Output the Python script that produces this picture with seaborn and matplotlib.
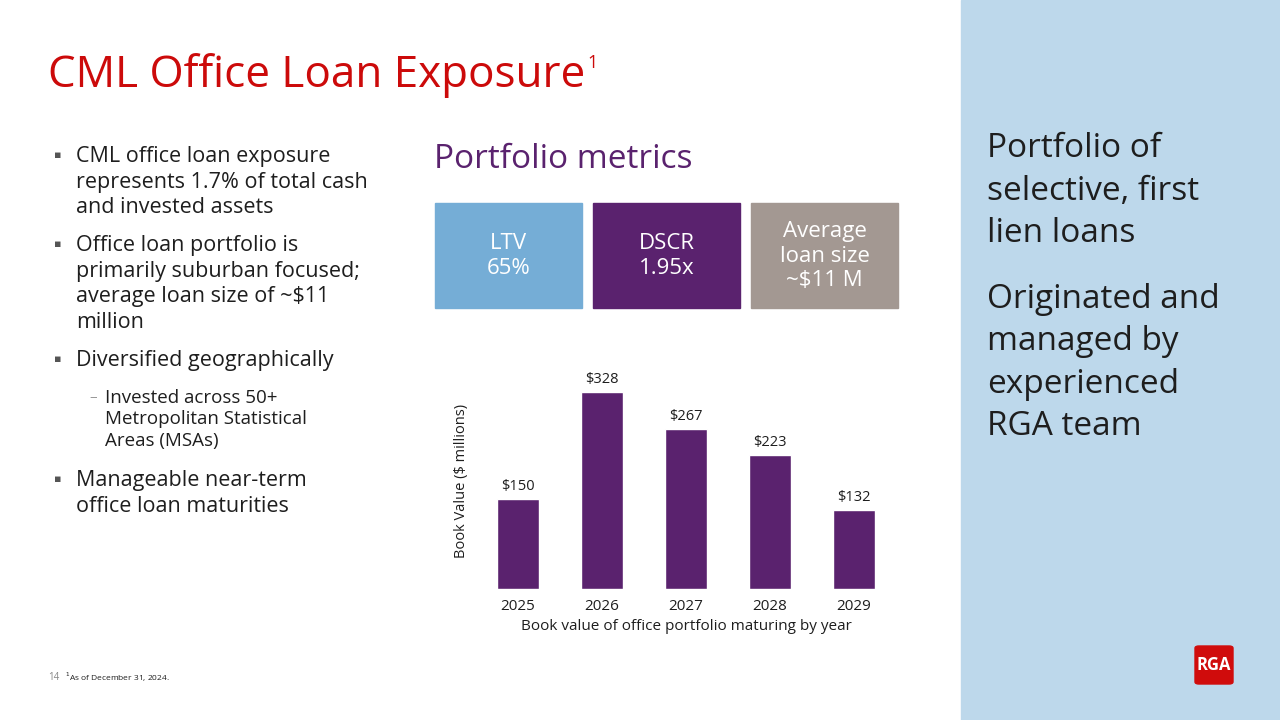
import pandas as pd
import seaborn as sns
import matplotlib.pyplot as plt
from matplotlib.patches import Rectangle, FancyBboxPatch

# data
years = ['2025', '2026', '2027', '2028', '2029']
book_values = [150, 328, 267, 223, 132]
value_labels = ['$150', '$328', '$267', '$223', '$132']

metric_names = ['LTV', 'DSCR', 'Average\nloan size']
metric_values = ['65%', '1.95x', '~$11 M']

bullets = [
    'CML office loan exposure\nrepresents 1.7% of total cash\nand invested assets',
    'Office loan portfolio is\nprimarily suburban focused;\naverage loan size of ~$11\nmillion',
    'Diversified geographically',
    'Manageable near-term\noffice loan maturities',
]
sub_bullet = 'Invested across 50+\nMetropolitan Statistical\nAreas (MSAs)'

side_texts = ['Portfolio of\nselective, first\nlien loans',
              'Originated and\nmanaged by\nexperienced\nRGA team']

sns.set_theme(style='white')
plt.rcParams['font.family'] = ['Open Sans', 'DejaVu Sans']

RED = '#CC0A0A'
PURPLE = '#5A226E'
LBLUE = '#75ADD6'
TAUPE = '#A39892'
PANEL = '#BDD8EB'
TXT = '#1E1E1E'

W, H = 1280, 720
fig = plt.figure(figsize=(12.8, 7.2), dpi=100)


def fx(x):
    return x / W


def fy(y):
    return 1 - y / H


# right panel
fig.patches.append(Rectangle((fx(961), 0), 1 - fx(961), 1, transform=fig.transFigure,
                             color=PANEL, zorder=0))

# title
fig.text(fx(48), fy(76), 'CML Office Loan Exposure', color=RED, fontsize=31.7,
         va='center', ha='left')
fig.text(fx(587), fy(63), '1', color=RED, fontsize=13, va='center', ha='left')

# bullets
bullet_y = [155, 244, 359, 479]
for by, txt in zip(bullet_y, bullets):
    fig.text(fx(54), fy(by), '\u25aa', fontsize=8, color='#555555', va='center', ha='left',
             family=['DejaVu Sans'])
    fig.text(fx(76), fy(by - 9), txt, fontsize=15.5, color=TXT, va='top', ha='left',
             linespacing=1.29)
fig.text(fx(89), fy(398), '\u2013', fontsize=11, color='#999999', va='center', ha='left')
fig.text(fx(105), fy(389), sub_bullet, fontsize=13.5, color=TXT, va='top', ha='left',
         linespacing=1.25)

# portfolio metrics heading
fig.text(fx(434), fy(160), 'Portfolio metrics', color=PURPLE, fontsize=24,
         va='center', ha='left')

box_x = [435, 593, 751]
box_w = 147
box_colors = [LBLUE, PURPLE, TAUPE]
for bx, c, name, val in zip(box_x, box_colors, metric_names, metric_values):
    fig.patches.append(Rectangle((fx(bx), fy(308)), box_w / W, 105 / H,
                                 transform=fig.transFigure, color=c, zorder=1))
    fig.text(fx(bx + box_w / 2), fy(256), name + '\n' + val, color='white', fontsize=16,
             ha='center', va='center', linespacing=1.22)

# bar chart
df = pd.DataFrame({'Year': years, 'Value': book_values})
ax = fig.add_axes([fx(476), fy(589), 420 / W, 216 / H])
sns.barplot(data=df, x='Year', y='Value', color=PURPLE, width=0.49, saturation=1, ax=ax)
ax.set_ylim(0, 360)
ax.set_xlim(-0.5, 4.5)
for i, (v, lab) in enumerate(zip(book_values, value_labels)):
    ax.text(i, v + 8, lab, ha='center', va='bottom', fontsize=10.5, color=TXT)
ax.set_yticks([])
ax.tick_params(axis='x', length=0, labelsize=11, colors=TXT, pad=7)
ax.set_xlabel('Book value of office portfolio maturing by year', fontsize=11, color=TXT,
              labelpad=4)
ax.set_ylabel('Book Value ($ millions)', fontsize=10.5, color=TXT, labelpad=5)
sns.despine(ax=ax, left=True, bottom=True)
ax.patch.set_alpha(0)

# right side text
fig.text(fx(987), fy(132), side_texts[0], fontsize=24, color=TXT, va='top', ha='left',
         linespacing=1.38)
fig.text(fx(987), fy(283), side_texts[1], fontsize=24, color=TXT, va='top', ha='left',
         linespacing=1.38)

# footer
fig.text(fx(48), fy(677), '14', fontsize=7, color='#888888', va='center', ha='left')
fig.text(fx(65), fy(677), '$^1$As of December 31, 2024.', fontsize=6, color=TXT,
         va='center', ha='left')

# logo
fig.patches.append(FancyBboxPatch((fx(1195), fy(684)), 38 / W, 38 / H,
                                  boxstyle='round,pad=0,rounding_size=0.003',
                                  transform=fig.transFigure, color='#D00C0C', zorder=1))
fig.text(fx(1214), fy(665), 'RGA', color='white', fontsize=12, fontweight='bold',
         ha='center', va='center')

fig.savefig('out.png', dpi=100)
